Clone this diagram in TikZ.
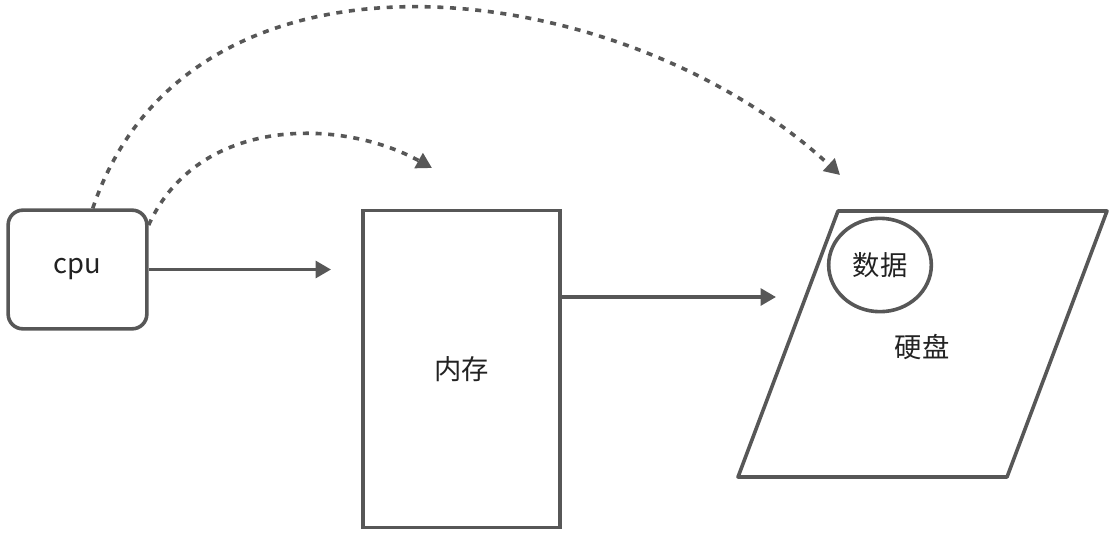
\documentclass[tikz,border=0pt]{standalone}
\usepackage{fontspec}
\newfontfamily\cjk{Noto Sans CJK SC}
\usepackage{tikz}
\usetikzlibrary{positioning, arrows.meta, shapes.geometric}
\definecolor{linegray}{HTML}{575757}
\definecolor{textgray}{HTML}{222222}

\begin{document}
\begin{tikzpicture}[
  x=0.75pt, y=-0.75pt,
  font=\cjk\fontsize{20.5}{24}\selectfont,
  text=textgray,
    box/.style={draw=linegray, line width=2.7pt, fill=white, inner sep=0pt},
    flow/.style={-{Triangle[length=11.5pt, width=12.5pt]}, draw=linegray, line width=2.7pt},
    access/.style={flow, dash pattern=on 4.5pt off 5pt}
]
\useasboundingbox (0,0) rectangle (1113,532);

% Nodes
\node[box, rounded corners=11pt, minimum width=104pt, minimum height=89pt] (cpu) at (77.5,269.5) {cpu};
\node[box, minimum width=148pt, minimum height=238pt] (mem) at (461.5,369) {内存};

% Disk (parallelogram)
\coordinate (d1) at (838,211);
\coordinate (d2) at (1107,211);
\coordinate (d3) at (1007,477);
\coordinate (d4) at (738,477);
\draw[linegray, line width=2.7pt, line join=round] (d1) -- (d2) -- (d3) -- (d4) -- cycle;
\node[box, ellipse, minimum width=77pt, minimum height=70pt] (data) at (880,265) {数据};
\node (disk) at (922,347) {硬盘};

% Arrow ends
\coordinate (diskin) at (776,297);
\coordinate (memtop) at (432,168);
\coordinate (disktop) at (840,175);

% Edges (solid)
\draw[flow, shorten >=22.5pt] (cpu) -- (mem.west |- cpu);
\draw[flow] (mem.east |- diskin) -- (diskin);

% Edges (dashed)
\draw[access] (cpu.32) .. controls +(50,-110) and +(-90,-50) .. (memtop);
\draw[access] (cpu.76) .. controls +(98,-290) and +(-215,-200) .. (disktop);

\end{tikzpicture}
\end{document}
